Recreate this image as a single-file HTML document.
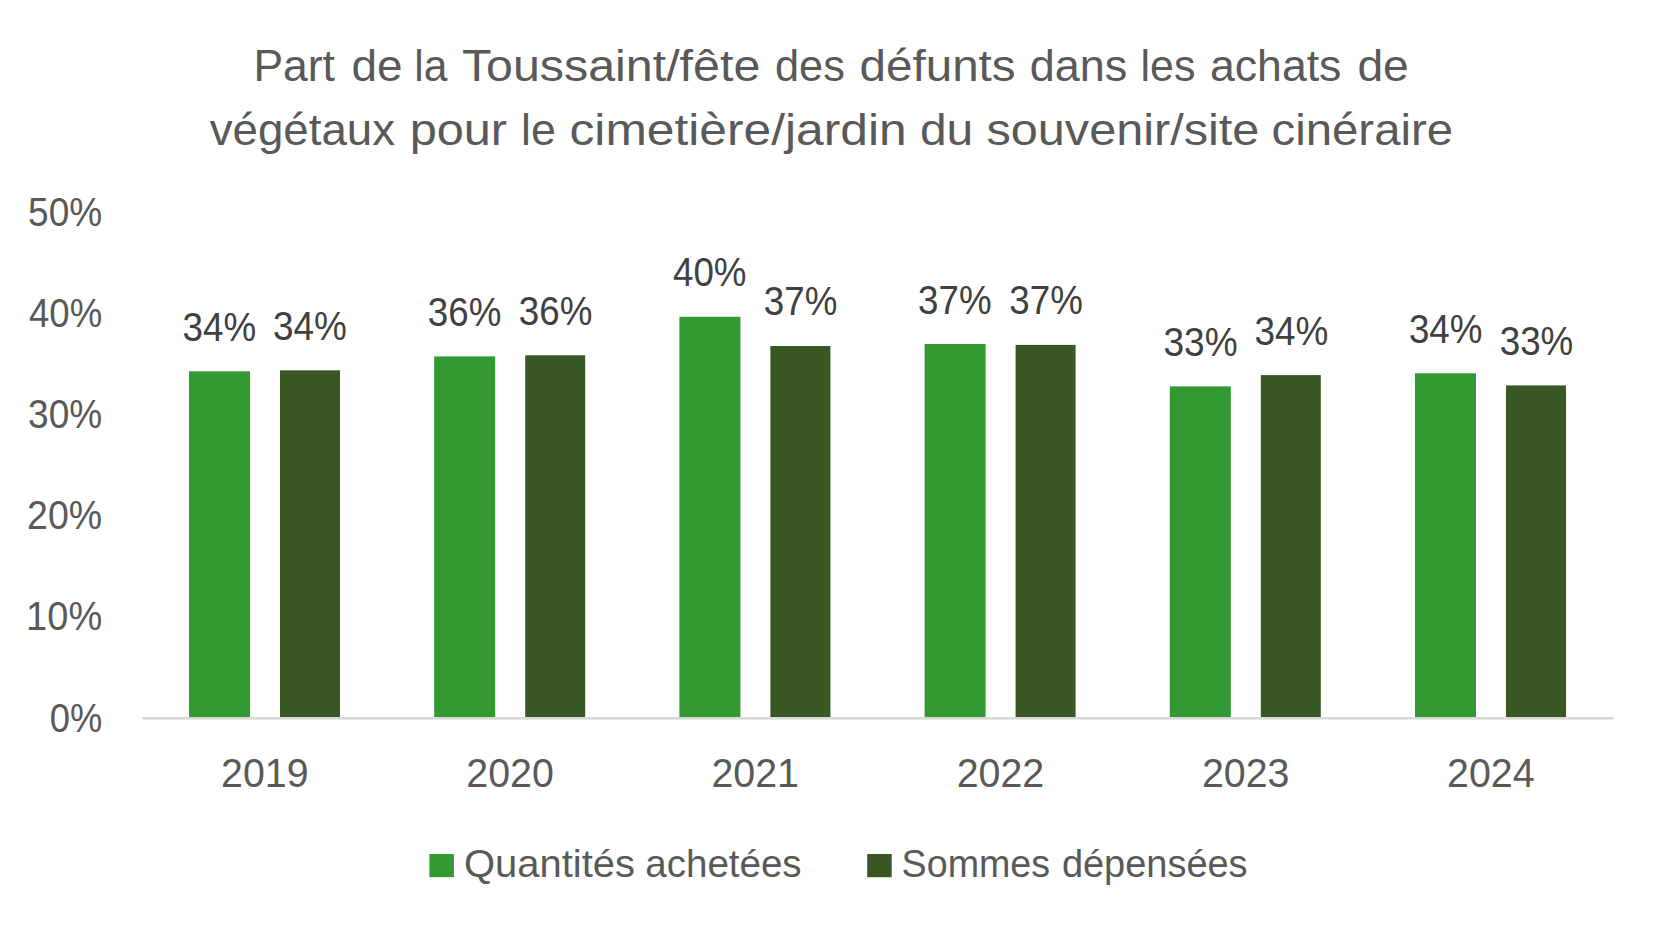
<!DOCTYPE html>
<html lang="fr">
<head>
<meta charset="utf-8">
<title>Part de la Toussaint/fête des défunts</title>
<style>
html,body{margin:0;padding:0;background:#fff;}
body{width:1661px;height:930px;overflow:hidden;}
svg{display:block;}
text{font-family:"Liberation Sans",sans-serif;white-space:pre;}
.title{font-size:44.8px;fill:#595959;}
.ax{font-size:39.8px;fill:#595959;}
.dl{font-size:39.8px;fill:#404040;}
.lg{font-size:38.2px;fill:#595959;}
</style>
</head>
<body>
<svg width="1661" height="930" viewBox="0 0 1661 930">
<rect x="0" y="0" width="1661" height="930" fill="#ffffff"/>
<!-- chart title -->
<text class="title" y="81.1"><tspan x="253.4" textLength="81.6" lengthAdjust="spacingAndGlyphs">Part</tspan> <tspan x="351.5" textLength="51.1" lengthAdjust="spacingAndGlyphs">de</tspan> <tspan x="414.2" textLength="33.1" lengthAdjust="spacingAndGlyphs">la</tspan> <tspan x="461.9" textLength="298.4" lengthAdjust="spacingAndGlyphs">Toussaint/fête</tspan> <tspan x="775.0" textLength="69.8" lengthAdjust="spacingAndGlyphs">des</tspan> <tspan x="859.6" textLength="156.0" lengthAdjust="spacingAndGlyphs">défunts</tspan> <tspan x="1029.7" textLength="97.5" lengthAdjust="spacingAndGlyphs">dans</tspan> <tspan x="1140.6" textLength="54.8" lengthAdjust="spacingAndGlyphs">les</tspan> <tspan x="1210.0" textLength="131.4" lengthAdjust="spacingAndGlyphs">achats</tspan> <tspan x="1357.4" textLength="51.4" lengthAdjust="spacingAndGlyphs">de</tspan></text>
<text class="title" y="145"><tspan x="209.7" textLength="185.4" lengthAdjust="spacingAndGlyphs">végétaux</tspan> <tspan x="409.7" textLength="97.4" lengthAdjust="spacingAndGlyphs">pour</tspan> <tspan x="521.1" textLength="34.8" lengthAdjust="spacingAndGlyphs">le</tspan> <tspan x="569.5" textLength="337.1" lengthAdjust="spacingAndGlyphs">cimetière/jardin</tspan> <tspan x="919.9" textLength="53.3" lengthAdjust="spacingAndGlyphs">du</tspan> <tspan x="986.5" textLength="272.8" lengthAdjust="spacingAndGlyphs">souvenir/site</tspan> <tspan x="1271.5" textLength="181.6" lengthAdjust="spacingAndGlyphs">cinéraire</tspan></text>
<!-- value axis labels -->
<text class="ax" x="28.1" y="225.8" textLength="74.1" lengthAdjust="spacingAndGlyphs">50%</text>
<text class="ax" x="29.0" y="327.0" textLength="73.2" lengthAdjust="spacingAndGlyphs">40%</text>
<text class="ax" x="28.1" y="428.1" textLength="74.1" lengthAdjust="spacingAndGlyphs">30%</text>
<text class="ax" x="27.1" y="529.2" textLength="75.1" lengthAdjust="spacingAndGlyphs">20%</text>
<text class="ax" x="26.1" y="630.4" textLength="76.1" lengthAdjust="spacingAndGlyphs">10%</text>
<text class="ax" x="49.7" y="731.5" textLength="52.5" lengthAdjust="spacingAndGlyphs">0%</text>
<!-- bars -->
<rect x="189.0" y="371.3" width="61" height="345.7" fill="#339933"/>
<rect x="280.0" y="370.3" width="60" height="346.7" fill="#385723"/>
<rect x="434.2" y="356.4" width="61" height="360.6" fill="#339933"/>
<rect x="525.2" y="355.3" width="60" height="361.7" fill="#385723"/>
<rect x="679.4" y="316.8" width="61" height="400.2" fill="#339933"/>
<rect x="770.4" y="346.0" width="60" height="371.0" fill="#385723"/>
<rect x="924.6" y="344.0" width="61" height="373.0" fill="#339933"/>
<rect x="1015.6" y="344.9" width="60" height="372.1" fill="#385723"/>
<rect x="1169.8" y="386.4" width="61" height="330.6" fill="#339933"/>
<rect x="1260.8" y="375.1" width="60" height="341.9" fill="#385723"/>
<rect x="1415.0" y="373.3" width="61" height="343.7" fill="#339933"/>
<rect x="1506.0" y="385.4" width="60" height="331.6" fill="#385723"/>
<!-- category axis line -->
<rect x="142.2" y="717" width="1471.2" height="2.6" fill="#d9d9d9"/>
<!-- data labels -->
<text class="dl" x="182.6" y="340.6" textLength="73.6" lengthAdjust="spacingAndGlyphs">34%</text>
<text class="dl" x="272.9" y="339.8" textLength="73.9" lengthAdjust="spacingAndGlyphs">34%</text>
<text class="dl" x="427.8" y="325.9" textLength="73.5" lengthAdjust="spacingAndGlyphs">36%</text>
<text class="dl" x="518.8" y="324.8" textLength="73.5" lengthAdjust="spacingAndGlyphs">36%</text>
<text class="dl" x="673.0" y="286.0" textLength="73.5" lengthAdjust="spacingAndGlyphs">40%</text>
<text class="dl" x="763.8" y="314.6" textLength="73.5" lengthAdjust="spacingAndGlyphs">37%</text>
<text class="dl" x="918.1" y="313.8" textLength="73.5" lengthAdjust="spacingAndGlyphs">37%</text>
<text class="dl" x="1009.3" y="314.4" textLength="73.5" lengthAdjust="spacingAndGlyphs">37%</text>
<text class="dl" x="1163.5" y="355.9" textLength="74.1" lengthAdjust="spacingAndGlyphs">33%</text>
<text class="dl" x="1254.4" y="345.1" textLength="73.9" lengthAdjust="spacingAndGlyphs">34%</text>
<text class="dl" x="1408.9" y="342.7" textLength="73.5" lengthAdjust="spacingAndGlyphs">34%</text>
<text class="dl" x="1499.7" y="355.0" textLength="73.6" lengthAdjust="spacingAndGlyphs">33%</text>
<!-- category labels -->
<text class="ax" x="221.1" y="787.3" textLength="87.5" lengthAdjust="spacingAndGlyphs">2019</text>
<text class="ax" x="466.3" y="787.3" textLength="87.5" lengthAdjust="spacingAndGlyphs">2020</text>
<text class="ax" x="711.5" y="787.3" textLength="87.5" lengthAdjust="spacingAndGlyphs">2021</text>
<text class="ax" x="956.7" y="787.3" textLength="87.5" lengthAdjust="spacingAndGlyphs">2022</text>
<text class="ax" x="1201.9" y="787.3" textLength="87.5" lengthAdjust="spacingAndGlyphs">2023</text>
<text class="ax" x="1447.1" y="787.3" textLength="87.5" lengthAdjust="spacingAndGlyphs">2024</text>
<!-- legend -->
<rect x="429.4" y="854" width="24.5" height="23.2" fill="#339933"/>
<text class="lg" y="877.0"><tspan x="464.0" textLength="170.9" lengthAdjust="spacingAndGlyphs">Quantités</tspan> <tspan x="645.3" textLength="156.3" lengthAdjust="spacingAndGlyphs">achetées</tspan></text>
<rect x="867.2" y="854" width="24.5" height="23.2" fill="#385723"/>
<text class="lg" y="877.0"><tspan x="901.6" textLength="148.5" lengthAdjust="spacingAndGlyphs">Sommes</tspan> <tspan x="1061.9" textLength="185.7" lengthAdjust="spacingAndGlyphs">dépensées</tspan></text>
</svg>
</body>
</html>
